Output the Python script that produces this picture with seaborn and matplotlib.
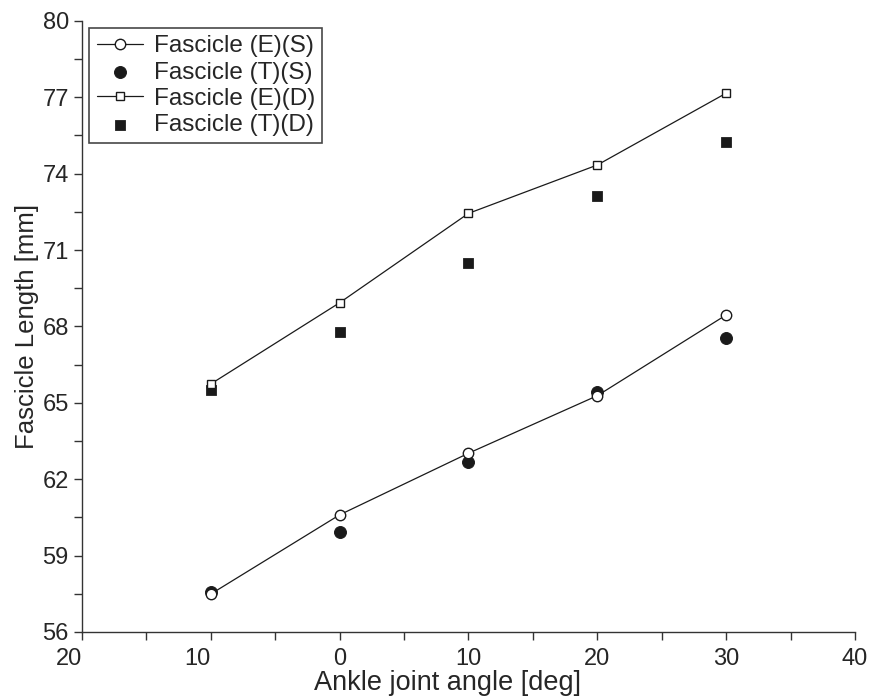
import numpy as np
import pandas as pd
import matplotlib
matplotlib.use("Agg")
import matplotlib.pyplot as plt
import seaborn as sns
from matplotlib.ticker import MultipleLocator, FuncFormatter

angle = [-10, 0, 10, 20, 30]
es = [57.49, 60.60, 63.02, 65.28, 68.45]
ts = [57.56, 59.92, 62.69, 65.41, 67.54]
ed = [65.74, 68.93, 72.44, 74.34, 77.16]
td = [65.50, 67.77, 70.48, 73.14, 75.23]

sns.set_style("ticks")
plt.rcParams['font.family'] = ['Liberation Sans', 'DejaVu Sans']
plt.rcParams['xtick.direction'] = 'out'
plt.rcParams['ytick.direction'] = 'out'

fig = plt.figure(figsize=(8.72, 6.96), dpi=100)
ax = fig.add_axes([0.094, 0.092, 0.8865, 0.878])

k = "#1a1a1a"
sns.lineplot(x=angle, y=es, ax=ax, color=k, lw=0.9, marker="o", markersize=7.5,
             markerfacecolor="white", markeredgecolor=k, markeredgewidth=1.0,
             label="Fascicle (E)(S)")
sns.scatterplot(x=angle, y=ts, ax=ax, color=k, marker="o", s=74, edgecolor=k,
                label="Fascicle (T)(S)")
sns.lineplot(x=angle, y=ed, ax=ax, color=k, lw=0.9, marker="s", markersize=6,
             markerfacecolor="white", markeredgecolor=k, markeredgewidth=1.0,
             label="Fascicle (E)(D)")
sns.scatterplot(x=angle, y=td, ax=ax, color=k, marker="s", s=52, edgecolor=k,
                label="Fascicle (T)(D)")

ax.set_xlim(-20, 40)
ax.set_ylim(56, 80)
ax.set_xticks(np.arange(-20, 41, 10))
ax.xaxis.set_minor_locator(MultipleLocator(5))
ax.set_yticks(np.arange(56, 81, 3))
ax.set_yticks(np.arange(57.5, 80, 3), minor=True)
ax.xaxis.set_major_formatter(FuncFormatter(lambda v, p: f"{abs(v):.0f}"))
ax.tick_params(which="both", length=5.5, width=1.0, color="#333333", labelsize=17)
ax.tick_params(axis="y", pad=4)
ax.tick_params(axis="x", pad=6)
sns.despine(ax=ax)
for s in ["left", "bottom"]:
    ax.spines[s].set_linewidth(1.0)
    ax.spines[s].set_color("#333333")

fig.canvas.draw()
for lab, v in zip(ax.get_xticklabels(), ax.get_xticks()):
    if v < 0:
        lab.set_horizontalalignment("right")

ax.set_xlabel("Ankle joint angle [deg]", fontsize=19.5)
ax.xaxis.set_label_coords(0.4735, -0.062)
ax.set_ylabel("Fascicle Length [mm]", fontsize=18.5, labelpad=2)

leg = ax.legend(loc="upper left", fontsize=17.5, frameon=True, fancybox=False,
                edgecolor=k, borderaxespad=0.3, handletextpad=0.45,
                labelspacing=0.17, borderpad=0.3, handlelength=1.9)
leg.get_frame().set_linewidth(1.2)

fig.savefig("out.png", dpi=100)
